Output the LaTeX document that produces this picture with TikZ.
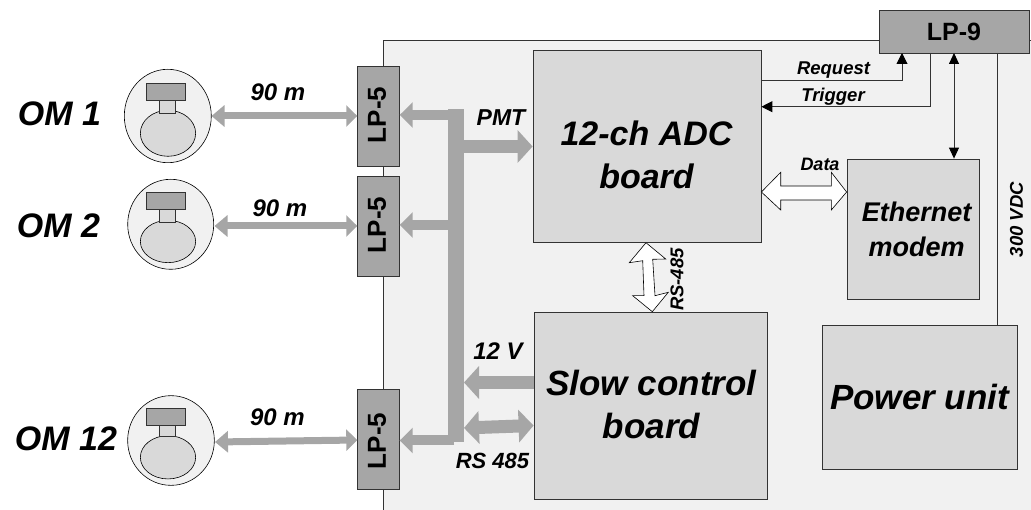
\documentclass[tikz,border=0pt]{standalone}
\usepackage{fontspec}
\setmainfont{Liberation Sans}
\usetikzlibrary{arrows.meta,calc,shapes.geometric}
\definecolor{bgp}{gray}{0.945}
\definecolor{boxg}{gray}{0.85}
\definecolor{darkg}{gray}{0.65}
\definecolor{edgeg}{gray}{0.2}
\newcommand{\fs}[1]{\fontsize{#1}{#1}\selectfont}
\tikzset{
 x=1pt,y=-1pt,
 lbl/.style={font=\bfseries\itshape\fs{#1},inner sep=0pt,text=black},
 boardbox/.style={draw=edgeg,line width=0.8pt,fill=boxg,inner sep=0pt},
 boardtxt/.style={inner sep=0pt,align=center,font=\bfseries\itshape\fontsize{#1}{#1}\selectfont},
 lp/.style={draw=edgeg,line width=0.9pt,fill=darkg,inner sep=0pt,minimum width=41.5pt,minimum height=100pt},
 lptxt/.style={rotate=90,inner sep=0pt,font=\bfseries\fs{26}},
 cable/.style={darkg,line width=7pt,{Triangle[length=13pt,width=21pt]}-{Triangle[length=11pt,width=21pt]}},
 feed/.style={darkg,line width=10pt,-{Triangle[length=13pt,width=25pt]}},
 power/.style={darkg,line width=13pt,-{Triangle[length=15pt,width=32pt]}},
 powerboth/.style={darkg,line width=13pt,{Triangle[length=15pt,width=32pt]}-{Triangle[length=15pt,width=32pt]}},
 thinarrow/.style={draw=edgeg,line width=0.9pt,-{Triangle[length=11pt,width=11pt,color=black]}},
 thinboth/.style={draw=edgeg,line width=0.9pt,{Triangle[length=11pt,width=10pt,color=black]}-{Triangle[length=11pt,width=10pt,color=black]}},
 hollow/.style={draw=black,line width=0.6pt,fill=white},
 globe/.style={ellipse,draw=black,line width=0.6pt,fill=bgp,inner sep=0pt},
 bulb/.style={ellipse,draw=black,line width=0.6pt,fill=boxg,inner sep=0pt},
 neck/.style={draw=edgeg,line width=0.6pt,fill=boxg,minimum width=16pt,inner sep=0pt},
 headbox/.style={draw=edgeg,line width=0.7pt,fill=darkg,minimum width=39pt,minimum height=17pt,inner sep=0pt},
}
% name, globe x, y, w, h, head y, neck y, neck h, bulb y, bulb h
\newcommand{\omunit}[9]{%
 \node[globe,minimum width=#4pt,minimum height=#5pt] (#1) at (#2,#3) {};
 \node[bulb,minimum width=55.3pt,minimum height=#9pt] (#1b) at (168,#8) {};
 \node[neck,minimum height=#7pt] (#1n) at (167.7,#6) {};
 \node[headbox] (#1h) at (166.2,\headY) {};
}
\begin{document}
\begin{tikzpicture}
\useasboundingbox (0,0) rectangle (1031,510);
% panel
\path[fill=bgp] (383.5,40) rectangle (1031,510);
\draw[edgeg,line width=0.8pt] (383.5,510) -- (383.5,40) -- (1031,40);
% LP-5 connectors
\node[lp] (lpa) at (378.5,116.5) {};
\node[lp] (lpb) at (378.5,226) {};
\node[lp] (lpc) at (378.5,439) {};
\node[lptxt] at (377,115) {LP-5};
\node[lptxt] at (377,225) {LP-5};
\node[lptxt] at (377,441) {LP-5};
\node[draw=edgeg,line width=0.9pt,fill=darkg,minimum width=150pt,minimum height=43pt,inner sep=0pt,font=\bfseries\fs{25}] (lpn) at (954,31.5) {LP-9};
% boards
\node[boardbox,minimum width=228pt,minimum height=192pt] (adc) at (647,146) {};
\node[boardtxt=34] at (646.5,155) {12-ch ADC\\[9pt]board};
\node[boardbox,minimum width=233pt,minimum height=187pt] (slow) at (650.5,405.5) {};
\node[boardtxt=35] at (651.5,404) {Slow control\\[8pt]board};
\node[boardbox,minimum width=132pt,minimum height=140pt] (eth) at (913,229) {};
\node[boardtxt=27] at (916.7,229) {Ethernet\\[8pt]modem};
\node[boardbox,minimum width=195pt,minimum height=144pt] (pwr) at (919.5,397) {};
\node[boardtxt=35] at (919.5,397) {Power unit};
% optical modules
\def\headY{91.7}\omunit{oma}{167.8}{116}{87}{93.4}{106.7}{13.3}{133.3}{46}
\def\headY{201}\omunit{omb}{170.7}{224.3}{86}{90}{216}{13.4}{241.5}{42.3}
\def\headY{417.3}\omunit{omc}{171}{440.5}{86.7}{89.7}{430.8}{10.4}{457.3}{43.3}
% OM labels
\node[lbl=34] at (59.5,113.5) {OM 1};
\node[lbl=34] at (58.5,226) {OM 2};
\node[lbl=34] at (66,439) {OM 12};
% cables
\coordinate (ca) at (211.5,116);
\coordinate (cb) at (214.5,226);
\coordinate (cc) at (215,442);
\draw[cable] (ca) -- (lpa.west |- ca);
\draw[cable] (cb) -- (lpb.west |- cb);
\draw[cable] (cc) -- (lpc.west |- 0,440);
% bus
\path[fill=darkg] (448,109.3) rectangle (464,441.7);
\coordinate (ba) at (456,115);
\coordinate (bb) at (456,225);
\coordinate (bc) at (454,440.5);
\draw[feed] (ba) -- (lpa.east |- ba);
\draw[feed] (bb) -- (lpb.east |- bb);
\draw[feed] (bc) -- (lpc.east |- bc);
\coordinate (pa) at (464,146.5);
\coordinate (pb) at (464,382.5);
\draw[power] (pa) -- (adc.west |- pa);
\draw[power] (slow.west |- pb) -- (pb);
\draw[powerboth] (464,428) -- (slow.west |- 0,425.5);
% thin links
\coordinate (req) at (902,53);
\coordinate (trg) at (930.7,53);
\coordinate (dat) at (954,53);
\coordinate (pow) at (997.7,53);
\draw[thinarrow] (adc.east |- 0,80) -| (req);
\draw[thinarrow] (trg) |- (adc.east |- 0,106.7);
\draw[thinboth] (dat) -- (eth.north -| dat);
\draw[draw=edgeg,line width=0.9pt] (pow) -- (pwr.north -| pow);
% hollow arrows
\draw[hollow] (adc.east |- 0,192) -- (780.7,172.3) -- (780.7,186) -- (831.3,186) -- (831.3,172.3) -- (eth.west |- 0,192) -- (831.3,210) -- (831.3,200) -- (780.7,200) -- (780.7,210) -- cycle;
\draw[hollow] (646,242.7) -- (629.3,262.7) -- (642.7,260.7) -- (644,295.7) -- (632.7,295.7) -- (652.3,311.7) -- (668.3,292.3) -- (655,295.7) -- (652.7,259.3) -- (665.7,259) -- cycle;
% labels
\node[lbl=24] at (278,92) {90 m};
\node[lbl=24] at (280,208) {90 m};
\node[lbl=24] at (277.5,417.5) {90 m};
\node[lbl=23] at (501,118) {PMT};
\node[lbl=24] at (498,351) {12 V};
\node[lbl=22] at (492.5,460.5) {RS 485};
\node[lbl=18.5] at (833.5,70) {Request};
\node[lbl=18.5] at (833,97) {Trigger};
\node[lbl=18] at (820,164) {Data};
\node[lbl=18.5,rotate=90] at (677,279.5) {RS-485};
\node[lbl=18.5,rotate=90] at (1016.5,219.5) {300 VDC};
\end{tikzpicture}
\end{document}
